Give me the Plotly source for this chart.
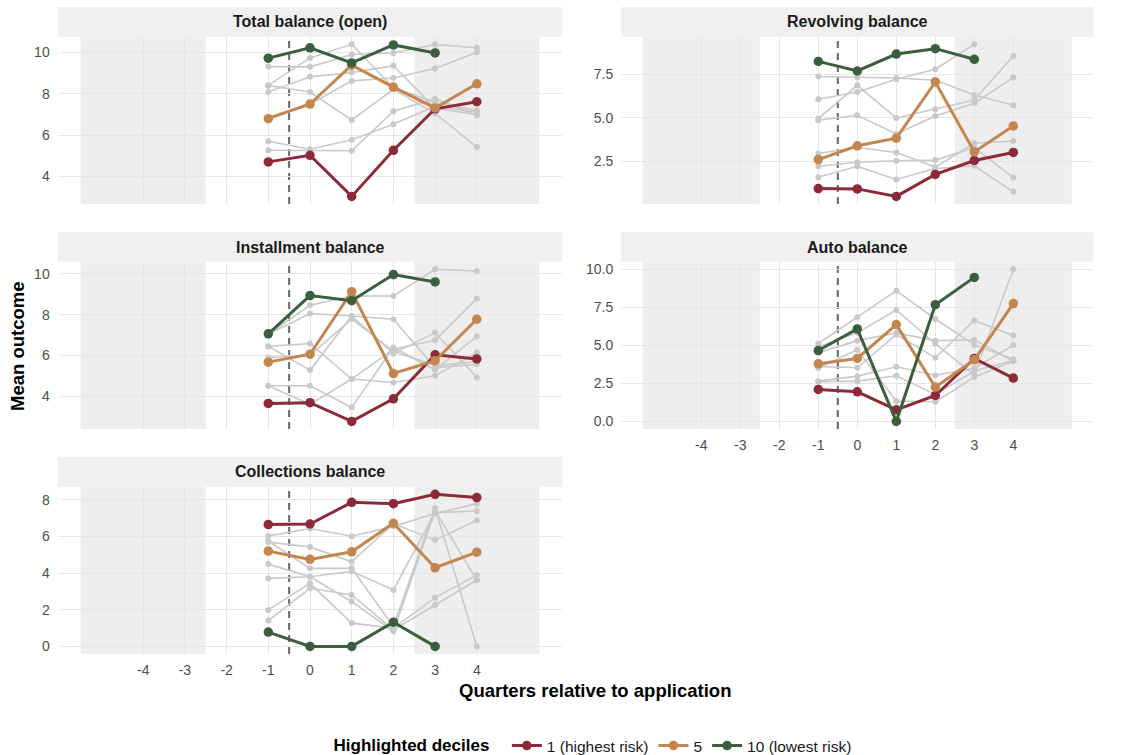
import plotly.graph_objects as go

# ---- data -------------------------------------------------------------
quarters = [-1, 0, 1, 2, 3, 4]
quarters_d10 = [-1, 0, 1, 2, 3]
x_ticks = [-4, -3, -2, -1, 0, 1, 2, 3, 4]

panel_titles = [
    "Total balance (open)",
    "Revolving balance",
    "Installment balance",
    "Auto balance",
    "Collections balance",
]

decile_names = ["1 (highest risk)", "5", "10 (lowest risk)"]
decile_colors = ["#8c2b37", "#c4864f", "#3b5e3f"]

# Total balance (open)
total_d1 = [4.71, 5.03, 3.04, 5.27, 7.28, 7.62]
total_d5 = [6.80, 7.51, 9.39, 8.33, 7.32, 8.49]
total_d10 = [9.73, 10.23, 9.50, 10.37, 9.98]
total_other = [
    [5.71, 5.32, 5.78, 6.53, 7.41, 7.12],
    [5.27, 5.27, 5.25, 7.16, 7.77, 6.96],
    [8.41, 8.09, 6.74, 8.22, 7.06, 5.43],
    [6.88, 7.50, 8.63, 8.77, 9.23, 10.02],
    [8.09, 8.83, 9.03, 9.37, 7.30, 7.00],
    [9.32, 9.31, 9.91, 9.98, 10.39, 10.23],
    [8.41, 9.74, 10.40, 8.30, 7.60, 7.20],
]

# Revolving balance
rev_d1 = [0.95, 0.93, 0.50, 1.76, 2.56, 3.02]
rev_d5 = [2.61, 3.40, 3.84, 7.06, 3.05, 4.54]
rev_d10 = [8.24, 7.69, 8.66, 8.97, 8.36]
rev_other = [
    [7.37, 7.31, 7.29, 7.16, 6.31, 5.73],
    [6.07, 6.49, 7.22, 7.79, 9.22, None],
    [4.96, 6.87, 5.00, 5.50, 6.03, 8.55],
    [4.87, 5.15, 4.08, 5.11, 5.84, 7.31],
    [2.96, 3.30, 3.02, 2.18, 3.55, 3.68],
    [2.23, 2.46, 2.54, 2.58, 3.30, 1.58],
    [1.60, 2.23, 1.47, 2.10, 2.25, 0.76],
]

# Installment balance
inst_d1 = [3.64, 3.68, 2.76, 3.87, 6.03, 5.83]
inst_d5 = [5.67, 6.06, 9.13, 5.11, 5.74, 7.78]
inst_d10 = [7.06, 8.94, 8.69, 9.97, 9.61]
inst_other = [
    [7.04, 8.46, 8.92, 8.92, 10.23, 10.15],
    [7.04, 8.06, 7.94, 7.78, 5.40, 5.57],
    [6.45, 6.58, 4.84, 6.30, 6.75, 8.79],
    [6.45, 5.28, 7.94, 6.10, 7.12, 4.92],
    [4.51, 4.51, 3.45, 6.39, 5.30, 6.93],
    [4.51, 3.60, 4.84, 4.67, 5.00, 6.14],
    [5.90, 6.00, 7.80, 6.20, 5.50, 5.70],
]

# Auto balance
auto_d1 = [2.10, 1.94, 0.76, 1.70, 4.13, 2.84]
auto_d5 = [3.78, 4.13, 6.35, 2.25, 4.04, 7.73]
auto_d10 = [4.65, 6.07, 0.00, 7.66, 9.45]
auto_other = [
    [5.11, 6.83, 8.58, 6.72, 5.02, 4.07],
    [4.90, 5.81, 7.31, 5.09, 3.06, 9.98],
    [4.50, 5.30, 5.81, 5.30, 5.35, 3.96],
    [3.60, 3.52, 5.70, 4.17, 6.62, 5.63],
    [2.64, 2.97, 3.58, 3.03, 3.49, 5.00],
    [2.60, 2.64, 2.99, 1.77, 3.30, 4.00],
    [3.50, 4.70, 1.33, 1.29, 2.90, 3.96],
]

# Collections balance
coll_d1 = [6.65, 6.68, 7.86, 7.79, 8.30, 8.12]
coll_d5 = [5.20, 4.75, 5.16, 6.72, 4.29, 5.14]
coll_d10 = [0.78, 0.00, 0.00, 1.32, 0.00]
coll_other = [
    [6.03, 6.43, 6.01, 6.55, 7.25, 7.79],
    [5.69, 5.43, 4.62, 6.70, 5.80, 6.88],
    [5.75, 4.26, 4.26, 1.09, 7.55, 0.00],
    [4.49, 3.80, 2.45, 0.82, 7.40, 3.62],
    [3.71, 3.80, 4.10, 3.08, 7.30, 7.39],
    [1.99, 3.44, 1.27, 1.00, 2.66, 3.89],
    [1.41, 3.17, 2.81, 0.90, 2.26, 3.62],
]

y_ticks = [
    [4, 6, 8, 10],
    [2.5, 5.0, 7.5],
    [4, 6, 8, 10],
    [0.0, 2.5, 5.0, 7.5, 10.0],
    [0, 2, 4, 6, 8],
]
y_ticktext = [
    ["4", "6", "8", "10"],
    ["2.5", "5.0", "7.5"],
    ["4", "6", "8", "10"],
    ["0.0", "2.5", "5.0", "7.5", "10.0"],
    ["0", "2", "4", "6", "8"],
]

panel_data = [
    (total_d1, total_d5, total_d10, total_other),
    (rev_d1, rev_d5, rev_d10, rev_other),
    (inst_d1, inst_d5, inst_d10, inst_other),
    (auto_d1, auto_d5, auto_d10, auto_other),
    (coll_d1, coll_d5, coll_d10, coll_other),
]

# ---- layout geometry ----------------------------------------------------
W, H = 1121, 755
FONT = "Liberation Sans, Arial, Helvetica, sans-serif"


def px_x(p):
    return p / W


def px_y(p):
    return 1 - p / H


col_x = [(57.7, 562.3), (621.3, 1093.3)]
row_y = [(36.7, 204.0), (261.7, 429.0), (486.7, 654.0)]
strip_y = [(7.0, 36.7), (232.3, 261.7), (456.7, 486.7)]
# (column, row, tick labels on x)
placement = [(0, 0, False), (1, 0, False), (0, 1, False), (1, 1, True), (0, 2, True)]

fig = go.Figure()
shapes = []
annotations = []
layout_axes = {}

for i, (d1, d5, d10, others) in enumerate(panel_data):
    col, row, show_x = placement[i]
    sfx = "" if i == 0 else str(i + 1)
    xa, ya = "x" + sfx, "y" + sfx

    # grey deciles
    for vals in others:
        fig.add_trace(go.Scatter(
            x=quarters, y=vals, xaxis=xa, yaxis=ya, mode="lines+markers",
            line=dict(color="#c9c9c9", width=1.6),
            marker=dict(color="#c9c9c9", size=6),
            showlegend=False, hoverinfo="skip",
        ))

    # highlighted deciles
    for j, (xs, vals) in enumerate([(quarters, d1), (quarters, d5), (quarters_d10, d10)]):
        fig.add_trace(go.Scatter(
            x=xs, y=vals, xaxis=xa, yaxis=ya, mode="lines+markers",
            name=decile_names[j], legendgroup=decile_names[j],
            line=dict(color=decile_colors[j], width=3),
            marker=dict(color=decile_colors[j], size=9.5),
            showlegend=(i == 0),
        ))

    # y range: data extent with 5% padding
    all_vals = [v for v in d1 + d5 + d10 if v is not None]
    for vals in others:
        all_vals += [v for v in vals if v is not None]
    lo, hi = min(all_vals), max(all_vals)
    pad = 0.05 * (hi - lo)

    x0, x1 = col_x[col]
    y0, y1 = row_y[row]
    layout_axes["xaxis" + sfx] = dict(
        domain=[px_x(x0), px_x(x1)], anchor=ya, range=[-6.05, 6.05],
        tickvals=x_ticks, ticktext=[str(t) for t in x_ticks],
        showticklabels=show_x, showgrid=True, gridcolor="#e6e6e6", gridwidth=1,
        zeroline=False, showline=False, ticks="", ticklabelstandoff=6,
        tickfont=dict(family=FONT, size=14, color="#4d4d4d"),
    )
    layout_axes["yaxis" + sfx] = dict(
        domain=[px_y(y1), px_y(y0)], anchor=xa, range=[lo - pad, hi + pad],
        tickvals=y_ticks[i], ticktext=y_ticktext[i],
        showgrid=True, gridcolor="#e6e6e6", gridwidth=1,
        zeroline=False, showline=False, ticks="", ticklabelstandoff=7,
        tickfont=dict(family=FONT, size=14, color="#4d4d4d"),
    )

    # shaded windows outside the main period
    for sx0, sx1 in [(-5.5, -2.5), (2.5, 5.5)]:
        shapes.append(dict(
            type="rect", xref=xa, yref=ya + " domain", x0=sx0, x1=sx1, y0=0, y1=1,
            fillcolor="#eeeeee", line=dict(width=0), layer="below",
        ))
    # application marker
    shapes.append(dict(
        type="line", xref=xa, yref=ya + " domain", x0=-0.5, x1=-0.5, y0=0, y1=1,
        line=dict(color="#666666", width=2, dash="7px,5px"), layer="below",
    ))

    # facet strip
    s0, s1 = strip_y[row]
    shapes.append(dict(
        type="rect", xref="paper", yref="paper",
        x0=px_x(x0), x1=px_x(x1), y0=px_y(s1), y1=px_y(s0),
        fillcolor="#f0f0f0", line=dict(width=0), layer="below",
    ))
    annotations.append(dict(
        text="<b>" + panel_titles[i] + "</b>", xref="paper", yref="paper",
        x=px_x((x0 + x1) / 2), y=px_y((s0 + s1) / 2), showarrow=False,
        xanchor="center", yanchor="middle",
        font=dict(family=FONT, size=16, color="#1a1a1a"),
    ))

annotations.append(dict(
    text="<b>Quarters relative to application</b>", xref="paper", yref="paper",
    x=px_x(595), y=px_y(690), showarrow=False, xanchor="center", yanchor="middle",
    font=dict(family=FONT, size=18.5, color="#000000"),
))
annotations.append(dict(
    text="<b>Mean outcome</b>", xref="paper", yref="paper", textangle=-90,
    x=px_x(18), y=px_y(346), showarrow=False, xanchor="center", yanchor="middle",
    font=dict(family=FONT, size=18.5, color="#000000"),
))

fig.update_layout(
    width=W, height=H,
    margin=dict(l=0, r=0, t=0, b=0, autoexpand=False),
    paper_bgcolor="white", plot_bgcolor="white",
    shapes=shapes, annotations=annotations,
    legend=dict(
        orientation="h", x=px_x(594), y=px_y(746), xanchor="center", yanchor="middle",
        title=dict(text="<b>Highlighted deciles</b>  ",
                   font=dict(family=FONT, size=17, color="#000000")),
        font=dict(family=FONT, size=15.5, color="#1a1a1a"),
        itemwidth=30, tracegroupgap=0,
    ),
    **layout_axes,
)

fig.write_html("out.html")
